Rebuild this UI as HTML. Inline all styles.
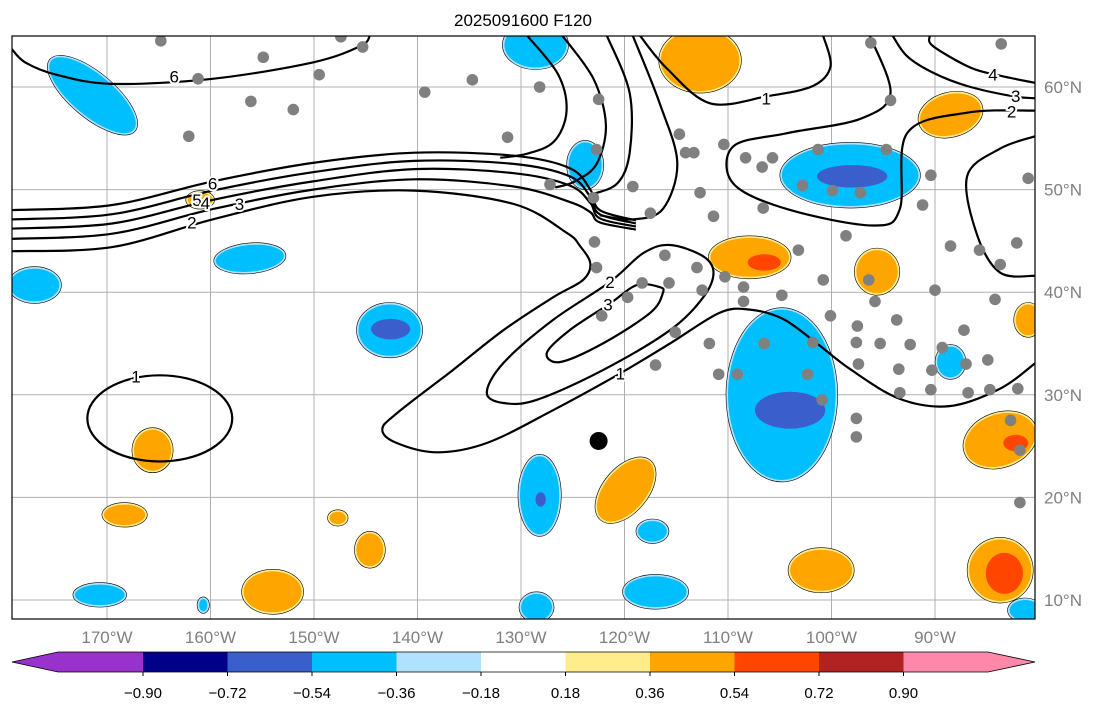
<!DOCTYPE html>
<html><head><meta charset="utf-8"><style>
body{margin:0;background:#fff;}
svg{display:block;font-family:"Liberation Sans","DejaVu Sans",sans-serif;}
</style></head><body>
<svg id="chart" width="1105" height="712" viewBox="0 0 1105 712" xmlns="http://www.w3.org/2000/svg">
<text x="523" y="26" font-size="17" text-anchor="middle">2025091600 F120</text>
<defs><clipPath id="mapclip"><rect x="12" y="36" width="1023" height="583"/></clipPath></defs>
<g id="map" clip-path="url(#mapclip)"></g>
<rect x="12" y="36" width="1023" height="583" fill="none" stroke="#000" stroke-width="1.2"/>
<g id="axes"></g>
<g id="cbar"></g>
</svg>
<script>
const lonTicks=[-170,-160,-150,-140,-130,-120,-110,-100,-90];
const latTicks=[10,20,30,40,50,60];
const cbarLevels=[-0.90,-0.72,-0.54,-0.36,-0.18,0.18,0.36,0.54,0.72,0.90];
const cbarColors=['#9932cc','#00008b','#3a5fcd','#00bfff','#b0e2ff','#ffffff','#ffec8b','#ffa500','#ff4500','#b22222','#ff88aa'];
// blobs: [lon, lat, rxDeg, ryDeg, colorIndex, rotationDeg]
const blobs=[
[-171.4,59.2,5.2,2.0,3,40],[-128.6,64.1,3,2.2,3,0],[-123.8,52.4,1.6,2.2,3,0],[-112.7,62.6,3.8,3,7,0],
[-98.2,51.4,6.6,3.0,3,0],[-98,51.3,3.4,1.1,2,0],[-88.5,57.3,3,2,7,-15],[-161,49,1.2,0.7,7,0],
[-156.2,43.3,3.3,1.3,3,-5],[-177,40.7,2.4,1.6,3,0],[-142.7,36.3,3,2.5,3,0],[-142.6,36.4,1.9,1,2,0],
[-107.9,43.4,3.8,1.9,7,0],[-106.5,42.9,1.6,0.8,8,0],[-95.6,42,2,2.1,7,0],
[-104.8,30.0,5.2,8.3,3,0],[-104.0,28.5,3.4,1.8,2,0],[-88.5,33.2,1.3,1.5,3,0],[-83.7,25.6,3.5,2.5,7,-20],
[-82.2,25.3,1.2,0.8,8,0],[-81,37.3,1.2,1.5,7,0],[-165.6,24.6,1.8,2,7,0],[-128.2,20.2,1.9,3.8,3,0],
[-128.1,19.8,0.5,0.7,2,0],[-119.9,20.7,2.0,3.6,7,40],[-168.3,18.3,2,1,7,0],[-147.7,18,0.8,0.6,7,0],
[-144.6,14.9,1.3,1.6,7,0],[-117.3,16.7,1.4,1,3,0],[-154,10.8,2.8,2,7,0],[-170.7,10.5,2.4,1,3,0],
[-160.7,9.5,0.4,0.6,3,0],[-128.5,9.3,1.5,1.3,3,0],[-117,10.8,3,1.5,3,0],[-101,12.9,3,2,7,0],
[-83.7,12.9,3,3,7,0],[-83.3,12.6,1.8,2,8,0],[-81.3,9,1.5,1,3,0]
];
const stations=[[-164.8,64.5],[-154.9,62.9],[-147.4,64.9],[-145.3,63.9],[-161.2,60.8],[-156.1,58.6],[-152,57.8],[-162.1,55.2],[-149.5,61.2],[-139.3,59.5],[-134.7,60.7],[-128.2,60],[-122.5,58.8],[-131.3,55.1],[-127.2,50.5],[-123,49.2],[-119.2,50.3],[-122.7,53.9],[-114.7,55.4],[-114.1,53.6],[-113.3,53.6],[-110.4,54.4],[-112.7,49.7],[-108.3,53.1],[-106.7,52.2],[-105.7,53.1],[-101.3,53.9],[-102.8,50.4],[-99.9,49.9],[-97.2,49.7],[-94.7,53.9],[-94.3,58.7],[-96.2,64.3],[-83.6,64.2],[-90.4,51.4],[-91.2,48.5],[-81,51.1],[-117.5,47.7],[-111.4,47.4],[-106.6,48.2],[-122.9,44.9],[-122.7,42.4],[-116.1,43.6],[-113,42.4],[-110.3,41.5],[-108.5,40.5],[-103.2,44.1],[-100.8,41.2],[-98.6,45.5],[-96.4,41.2],[-95.8,39.1],[-100.1,37.7],[-97.5,36.7],[-97.6,35.1],[-95.3,35],[-93.7,37.3],[-92.4,34.9],[-90,40.2],[-88.5,44.5],[-85.7,44.1],[-83.7,42.7],[-82.1,44.8],[-84.2,39.3],[-87.2,36.3],[-89.3,34.6],[-87,33],[-84.9,33.4],[-84.7,30.5],[-86.8,30.2],[-90.4,30.5],[-93.4,30.2],[-97.4,33],[-101.8,35.1],[-104.8,39.7],[-108.5,39.1],[-111.8,35],[-109.1,32],[-106.5,35],[-102.3,32],[-100.9,29.5],[-97.6,27.7],[-97.6,25.9],[-93.5,32.5],[-90.3,32.4],[-82,30.6],[-82.7,27.5],[-81.8,24.6],[-81.8,19.5],[-115.7,40.9],[-118.3,40.9],[-119.7,39.5],[-122.2,37.7],[-117,32.9],[-115.1,36.1],[-112.5,40.2],[-110.9,32]];
const centerPoint=[-122.5,25.5];
const jet6=[[-179.2,48.0],[-169.5,48.5],[-159.8,50.8],[-150.1,52.6],[-140.3,53.6],[-130.7,53.3],[-125.3,52.1],[-123.3,50.0],[-122.4,48.0],[-118.9,47.0]];
const jet5=[[-179.2,47.1],[-169.5,47.6],[-159.8,49.9],[-150.1,51.7],[-140.3,52.8],[-130.7,52.5],[-125.3,51.3],[-123.3,49.3],[-122.4,47.6],[-118.9,46.7]];
const jet4=[[-179.2,46.2],[-169.5,46.7],[-159.8,49.0],[-150.1,50.8],[-140.3,52.0],[-130.7,51.6],[-125.3,50.4],[-123.3,48.7],[-122.4,47.2],[-118.9,46.4]];
const jet3=[[-179.2,45.2],[-169.5,45.7],[-159.8,48.1],[-150.1,50.0],[-140.3,51.0],[-130.7,50.3],[-125.3,48.8],[-123.3,47.8],[-122.4,46.8],[-118.9,46.1]];
const longLine=[[-179.2,44.0],[-169.5,44.4],[-159.8,47.1],[-150.1,49.3],[-140.3,49.9],[-130.7,48.6],[-125.6,45.8],[-124.3,44.5],[-123.3,42.8],[-124.0,41.2],[-126.9,39.5],[-131.7,36.3],[-136.6,32.4],[-142.0,28.2],[-143.4,26.6],[-142.0,25.3],[-138.1,24.4],[-133.3,25.3],[-126.9,28.5],[-120.4,32.1],[-115.6,35.0],[-110.8,38.0],[-107.9,38.3],[-104.7,37.4],[-101.4,35.0],[-98.2,32.5],[-93.4,29.6],[-88.6,28.9],[-83.7,30.6],[-80.3,33.1]];
const uLine1=[[-129.4,65.0],[-126.4,61.2],[-125.6,57.6],[-126.8,54.7],[-129.4,53.5],[-132.0,53.1]];
const uLine2=[[-126.0,65.0],[-123.0,60.8],[-121.8,56.3],[-122.7,52.5],[-124.8,50.8],[-126.7,50.2]];
const uLine3=[[-121.7,65.0],[-119.5,59.4],[-119.5,53.6],[-120.7,50.6],[-123.3,49.5]];
const uLine4=[[-119.2,65.0],[-116.6,58.4],[-114.9,52.6],[-116.3,48.1],[-119.2,47.1],[-122.4,47.5]];
const topOne=[[-118.5,65.0],[-115.9,61.8],[-111.7,58.4],[-106.2,59.1],[-101.8,60.1],[-100.1,62.0],[-100.8,65.0]];
const rightTwo=[[-80.3,57.7],[-86.9,57.5],[-92.7,55.5],[-93.4,48.1],[-96.0,46.5],[-104.3,48.1],[-109.5,50.6],[-109.5,54.2],[-104.3,55.5],[-97.2,56.9],[-94.3,59.4],[-96.3,65.0]];
const rightThree=[[-80.3,58.9],[-82.5,59.1],[-86.9,60.1],[-90.2,61.4],[-92.7,63.0],[-94.1,65.0]];
const rightFour=[[-80.3,60.4],[-83.7,61.1],[-86.6,61.9],[-90.2,64.0],[-90.5,65.0]];
const rightLower=[[-80.3,55.2],[-83.7,54.0],[-86.9,51.3],[-85.9,45.5],[-83.7,41.9],[-80.3,41.6]];
const alaskaSix=[[-179.2,63.7],[-177.9,62.4],[-174.9,61.2],[-169.5,60.3],[-159.8,60.8],[-150.1,62.4],[-145.5,64.0],[-144.6,65.0]];
const ovalTwo=[[-111.4,41.9],[-112.4,43.5],[-115.6,44.6],[-118.2,43.8],[-121.4,41.0],[-126.9,37.3],[-131.7,33.1],[-133.3,30.2],[-131.7,29.2],[-128.5,29.5],[-122.1,32.4],[-115.6,36.3],[-112.4,39.5]];
const ovalThree=[[-116.6,40.5],[-118.8,40.7],[-121.4,38.9],[-125.3,36.3],[-127.5,34.1],[-126.2,33.2],[-122.1,35.0],[-117.5,38.0],[-116.3,39.9]];
const hawaiiOval=[-164.9,27.7,7.0,4.2];
// labels: [lon, lat, text]
const contourLabels=[[-159.8,50.6,'6'],[-161.3,49.0,'5'],[-160.5,48.7,'4'],[-157.2,48.6,'3'],[-161.8,46.8,'2'],[-163.5,61.0,'6'],[-167.2,31.8,'1'],[-106.3,58.9,'1'],[-84.4,61.2,'4'],[-82.2,59.1,'3'],[-82.6,57.6,'2'],[-121.4,41.0,'2'],[-121.6,38.8,'3'],[-120.4,32.1,'1']];

const NS='http://www.w3.org/2000/svg';
const X=lon=>107+(lon+170)*10.35;
const Y=lat=>87+(60-lat)*10.26;
function mk(tag,attrs,parent){const e=document.createElementNS(NS,tag);for(const k in attrs)e.setAttribute(k,attrs[k]);parent.appendChild(e);return e;}
function smooth(pts,closed){
  const p=pts.map(d=>[X(d[0]),Y(d[1])]);const n=p.length;
  let s='M'+p[0][0].toFixed(1)+','+p[0][1].toFixed(1);
  const last=closed?n:n-1;
  for(let i=0;i<last;i++){
    const p0=p[closed?(i-1+n)%n:Math.max(i-1,0)],p1=p[i],p2=p[(i+1)%n],p3=p[closed?(i+2)%n:Math.min(i+2,n-1)];
    const c1=[p1[0]+(p2[0]-p0[0])/6,p1[1]+(p2[1]-p0[1])/6],c2=[p2[0]-(p3[0]-p1[0])/6,p2[1]-(p3[1]-p1[1])/6];
    s+='C'+c1.map(v=>v.toFixed(1))+' '+c2.map(v=>v.toFixed(1))+' '+p2[0].toFixed(1)+','+p2[1].toFixed(1);
  }
  return s+(closed?'Z':'');
}
const map=document.getElementById('map');
lonTicks.forEach(l=>{const e=mk('line',{x1:X(l),x2:X(l),y1:36,y2:619,stroke:'#b0b0b0','stroke-width':1},map);

});
latTicks.forEach(l=>{const e=mk('line',{x1:12,x2:1035,y1:Y(l),y2:Y(l),stroke:'#b0b0b0','stroke-width':1},map);

});
blobs.forEach(b=>{
  const cx=X(b[0]),cy=Y(b[1]),rx=b[2]*10.35,ry=b[3]*10.26;
  const tr=`rotate(${b[5]} ${cx} ${cy})`;
  const rim=b[4]<=4?'#b0e2ff':'#ffec8b';
  if(b[4]==3||b[4]==7){const r=mk('ellipse',{cx,cy,rx:rx+2,ry:ry+2,fill:rim,stroke:'#000','stroke-width':0.6,transform:tr},map);
  
  }
  const e=mk('ellipse',{cx,cy,rx,ry,fill:cbarColors[b[4]],transform:tr},map);
  
  
});
[[jet6,0],[jet5,0],[jet4,0],[jet3,0],[longLine,0],[uLine1,0],[uLine2,0],[uLine3,0],[uLine4,0],[topOne,0],[rightTwo,0],[rightThree,0],[rightFour,0],[rightLower,0],[alaskaSix,0],[ovalTwo,1],[ovalThree,1]].forEach(c=>{
  const e=mk('path',{d:smooth(c[0],c[1]),fill:'none',stroke:'#000','stroke-width':2.2},map);
  
  
});
{const e=mk('ellipse',{cx:X(hawaiiOval[0]),cy:Y(hawaiiOval[1]),rx:hawaiiOval[2]*10.35,ry:hawaiiOval[3]*10.26,fill:'none',stroke:'#000','stroke-width':2.2},map);

}
contourLabels.forEach(l=>{
  const t=mk('text',{x:X(l[0]),y:Y(l[1])+6,'font-size':17,'text-anchor':'middle',fill:'#000',stroke:'#fff','stroke-width':4,'paint-order':'stroke'},map);
  t.textContent=l[2];
  
  
});
stations.forEach(s=>{const c=mk('circle',{cx:X(s[0]),cy:Y(s[1]),r:5.8,fill:'#808080'},map);

});
{const c=mk('circle',{cx:X(centerPoint[0]),cy:Y(centerPoint[1]),r:9,fill:'#000'},map);

}
const axes=document.getElementById('axes');
lonTicks.forEach(l=>{const t=mk('text',{x:X(l),y:643,'font-size':17,'text-anchor':'middle',fill:'#808080'},axes);t.textContent=Math.abs(l)+'°W';

});
latTicks.forEach(l=>{const t=mk('text',{x:1044,y:Y(l)+6,'font-size':17,fill:'#808080'},axes);t.textContent=l+'°N';

});
const cb=document.getElementById('cbar');
const cbX=v=>143+(cbarLevels.indexOf(v))*84.5;
const y0=652,y1=672;
cbarColors.forEach((c,i)=>{
  let e;
  if(i==0){e=mk('polygon',{points:`12,662 58,${y0} ${cbX(cbarLevels[0])},${y0} ${cbX(cbarLevels[0])},${y1} 58,${y1}`,fill:c},cb);}
  else if(i==cbarColors.length-1){const a=cbX(cbarLevels[cbarLevels.length-1]);e=mk('polygon',{points:`${a},${y0} 988,${y0} 1035,662 988,${y1} ${a},${y1}`,fill:c},cb);}
  else{const a=cbX(cbarLevels[i-1]),b=cbX(cbarLevels[i]);e=mk('rect',{x:a,y:y0,width:b-a,height:y1-y0,fill:c},cb);}
  
  
});
{const o=mk('polygon',{points:`12,662 58,${y0} 988,${y0} 1035,662 988,${y1} 58,${y1}`,fill:'none',stroke:'#000','stroke-width':0.8},cb);

}
cbarLevels.forEach(v=>{const x=cbX(v);
const tk=mk('line',{x1:x,x2:x,y1:y1,y2:y1+4,stroke:'#000'},cb);


const t=mk('text',{x:x,y:698,'font-size':15,'text-anchor':'middle'},cb);t.textContent=(v<0?'\u2212':'')+Math.abs(v).toFixed(2);

});
</script>
</body></html>
